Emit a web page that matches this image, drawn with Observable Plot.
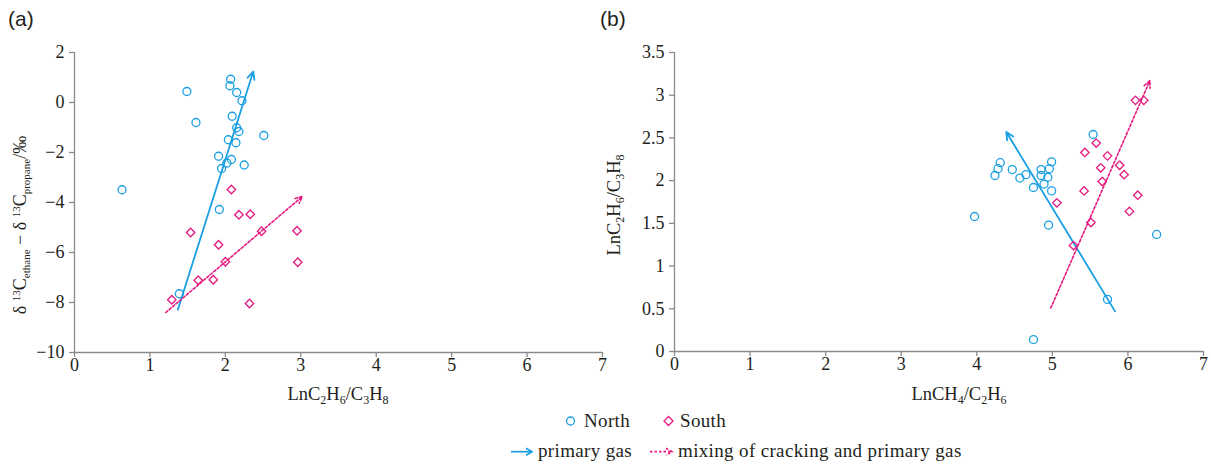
<!DOCTYPE html>
<html>
<head>
<meta charset="utf-8">
<script src="https://cdn.jsdelivr.net/npm/d3@7"></script>
<script src="https://cdn.jsdelivr.net/npm/@observablehq/plot@0.6"></script>
<style>
  body { margin: 0; background: #fff; }
  #wrap { position: relative; width: 1211px; height: 466px; overflow: hidden; }
  #wrap > svg { position: absolute; top: 0; overflow: visible; }
</style>
</head>
<body>
<div id="wrap"></div>
<script>
// Shared tick values
const xTicks = [0, 1, 2, 3, 4, 5, 6, 7];
const yTicksA = [-10, -8, -6, -4, -2, 0, 2];
const yTicksB = [0, 0.5, 1, 1.5, 2, 2.5, 3, 3.5];

// Panel (a): LnC2H6/C3H8 vs δ13C(ethane) − δ13C(propane)
const northA = [
  [2.07, 0.93], [2.06, 0.67], [1.49, 0.44], [2.15, 0.40], [2.22, 0.07],
  [2.09, -0.55], [1.61, -0.80], [2.15, -1.01], [2.18, -1.16], [2.51, -1.32],
  [2.04, -1.49], [2.14, -1.61], [1.91, -2.15], [2.08, -2.28], [2.02, -2.42],
  [1.95, -2.64], [2.25, -2.50], [0.63, -3.49], [1.92, -4.28], [1.39, -7.65]
];
const southA = [
  [2.08, -3.48], [2.18, -4.49], [2.33, -4.47], [1.54, -5.20], [2.48, -5.15],
  [2.95, -5.13], [1.91, -5.69], [2.00, -6.37], [2.96, -6.39], [1.64, -7.11],
  [1.84, -7.09], [1.29, -7.89], [2.32, -8.04]
];
const primaryA = [{x1: 1.37, y1: -8.29, x2: 2.37, y2: 1.24}];
const mixingA = [{x1: 1.21, y1: -8.40, x2: 3.02, y2: -3.76}];

// Panel (b): LnCH4/C2H6 vs LnC2H6/C3H8
const northB = [
  [5.54, 2.54], [4.31, 2.21], [4.28, 2.14], [4.24, 2.06], [4.47, 2.13],
  [4.57, 2.03], [4.65, 2.07], [4.99, 2.22], [4.96, 2.14], [4.85, 2.13],
  [4.85, 2.06], [4.94, 2.04], [4.89, 1.96], [4.75, 1.92], [4.99, 1.88],
  [3.97, 1.58], [4.95, 1.48], [6.38, 1.37], [5.73, 0.61], [4.75, 0.14]
];
const southB = [
  [6.10, 2.94], [6.21, 2.94], [5.58, 2.44], [5.43, 2.33], [5.73, 2.29],
  [5.64, 2.15], [5.89, 2.18], [5.95, 2.07], [5.66, 1.99], [5.42, 1.88],
  [6.13, 1.83], [5.06, 1.74], [6.02, 1.64], [5.51, 1.51], [5.28, 1.24]
];
const primaryB = [{x1: 5.83, y1: 0.47, x2: 4.39, y2: 2.57}];
const mixingB = [{x1: 4.98, y1: 0.51, x2: 6.29, y2: 3.17}];

const BLUE = "#1b9fe3";
const PINK = "#e5187f";
const AXIS = "#8a8a8a";
const INK = "#231f20";
const SERIF = "'Liberation Serif', 'Times New Roman', serif";
const SANS = "'Liberation Sans', Arial, sans-serif";
const fmt = d3.format("");

// Set font on a d3 text selection through inline style
function font(sel, family, size) {
  return sel.style("font-family", family).style("font-size", size + "px").style("fill", INK);
}

// Append a text run with sub/superscript pieces: parts = [[text, kind, size]]
function rich(sel, parts, base) {
  let off = 0;
  for (const [t, kind, size] of parts) {
    const target = kind === "sub" ? 4 : kind === "sup" ? -6 : 0;
    sel.append("tspan")
      .attr("dy", target - off)
      .style("font-size", (size || (kind ? 12 : base)) + "px")
      .text(t);
    off = target;
  }
}

function panel({north, south, primary, mixing, yDomain, yTicks, width, marginRight, marginBottom}) {
  const tick = {stroke: AXIS, strokeWidth: 1.3, tickSize: 5, tickFormat: fmt, label: null};
  const svg = Plot.plot({
    width,
    height: 420,
    marginLeft: 74,
    marginRight,
    marginTop: 52,
    marginBottom,
    style: {background: "transparent", overflow: "visible"},
    x: {domain: [0, 7]},
    y: {domain: yDomain},
    marks: [
      Plot.ruleX([0], {stroke: AXIS, strokeWidth: 1.3}),
      Plot.ruleY([yDomain[0]], {stroke: AXIS, strokeWidth: 1.3}),
      Plot.axisX({...tick, ticks: xTicks, tickPadding: 1}),
      Plot.axisY({...tick, ticks: yTicks, tickPadding: 5}),
      Plot.arrow(primary, {x1: "x1", y1: "y1", x2: "x2", y2: "y2", stroke: BLUE, strokeWidth: 1.8, headLength: 7, headAngle: 50}),
      Plot.arrow(mixing, {x1: "x1", y1: "y1", x2: "x2", y2: "y2", stroke: PINK, strokeWidth: 1.6, strokeDasharray: "2.5,2", headLength: 7, headAngle: 50}),
      Plot.dot(north, {x: d => d[0], y: d => d[1], r: 4, stroke: BLUE, strokeWidth: 1.3, fill: "none"}),
      Plot.dot(south, {x: d => d[0], y: d => d[1], symbol: "diamond2", r: 3.8, stroke: PINK, strokeWidth: 1.3})
    ]
  });
  // tick labels in the serif face used by the rest of the figure
  font(d3.select(svg).selectAll("text"), SERIF, 18);
  return svg;
}

const wrap = document.getElementById("wrap");

// ---- Panel (a)
const svgA = panel({north: northA, south: southA, primary: primaryA, mixing: mixingA,
  yDomain: [-10, 2], yTicks: yTicksA, width: 611, marginRight: 9, marginBottom: 68});
svgA.style.left = "0px";
wrap.appendChild(svgA);
{
  const s = d3.select(svgA);
  font(s.append("text").attr("x", 8).attr("y", 26).attr("text-anchor", "start"), SANS, 21).text("(a)");
  const xl = font(s.append("text").attr("x", 338).attr("y", 400).attr("text-anchor", "middle"), SERIF, 18.5);
  rich(xl, [["LnC"], ["2", "sub"], ["H"], ["6", "sub"], ["/C"], ["3", "sub"], ["H"], ["8", "sub"]], 18.5);
  const yl = font(s.append("text").attr("transform", "translate(26,225) rotate(-90)").attr("text-anchor", "middle"), SERIF, 18);
  rich(yl, [["δ "], ["13", "sup", 11], ["C"], ["ethane", "sub", 11], [" − δ "], ["13", "sup", 11], ["C"], ["propane", "sub", 11], ["/‰"]], 18);
}

// ---- Panel (b)
const svgB = panel({north: northB, south: southB, primary: primaryB, mixing: mixingB,
  yDomain: [0, 3.5], yTicks: yTicksB, width: 611, marginRight: 8, marginBottom: 69});
svgB.style.left = "600px";
wrap.appendChild(svgB);
{
  const s = d3.select(svgB);
  font(s.append("text").attr("x", 0).attr("y", 26).attr("text-anchor", "start"), SANS, 21).text("(b)");
  const xl = font(s.append("text").attr("x", 359).attr("y", 400).attr("text-anchor", "middle"), SERIF, 18.5);
  rich(xl, [["LnCH"], ["4", "sub"], ["/C"], ["2", "sub"], ["H"], ["6", "sub"]], 18.5);
  const yl = font(s.append("text").attr("transform", "translate(20,205) rotate(-90)").attr("text-anchor", "middle"), SERIF, 18.5);
  rich(yl, [["LnC"], ["2", "sub"], ["H"], ["6", "sub"], ["/C"], ["3", "sub"], ["H"], ["8", "sub"]], 18.5);
}

// ---- Shared legend below both panels
{
  const lg = d3.select(wrap).append("svg")
    .attr("width", 1211).attr("height", 66)
    .style("left", "0px").style("top", "400px");
  const txt = (x, y, t) => font(lg.append("text").attr("x", x).attr("y", y), SERIF, 19)
    .style("letter-spacing", "0.35px").text(t);

  lg.append("circle").attr("cx", 570.5).attr("cy", 21).attr("r", 4)
    .attr("fill", "none").attr("stroke", BLUE).attr("stroke-width", 1.3);
  txt(584, 27, "North");
  lg.append("path").attr("d", "M668.5,16.5L673,21L668.5,25.5L664,21Z")
    .attr("fill", "none").attr("stroke", PINK).attr("stroke-width", 1.3);
  txt(680, 27, "South");

  const arrowKey = (x1, x2, y, color, dash) => {
    const g = lg.append("g").attr("fill", "none").attr("stroke", color).attr("stroke-width", 1.7);
    const line = g.append("path").attr("d", `M${x1},${y}H${x2}`);
    const head = g.append("path").attr("d", `M${x2 - 6},${y - 3.5}L${x2},${y}L${x2 - 6},${y + 3.5}`);
    if (dash) { line.attr("stroke-dasharray", dash); head.attr("stroke-dasharray", dash); }
  };
  arrowKey(511, 532, 51.7, BLUE, null);
  txt(538, 57, "primary gas");
  arrowKey(650, 672, 51.7, PINK, "2.5,2");
  txt(678, 57, "mixing of cracking and primary gas");
}
</script>
</body>
</html>
